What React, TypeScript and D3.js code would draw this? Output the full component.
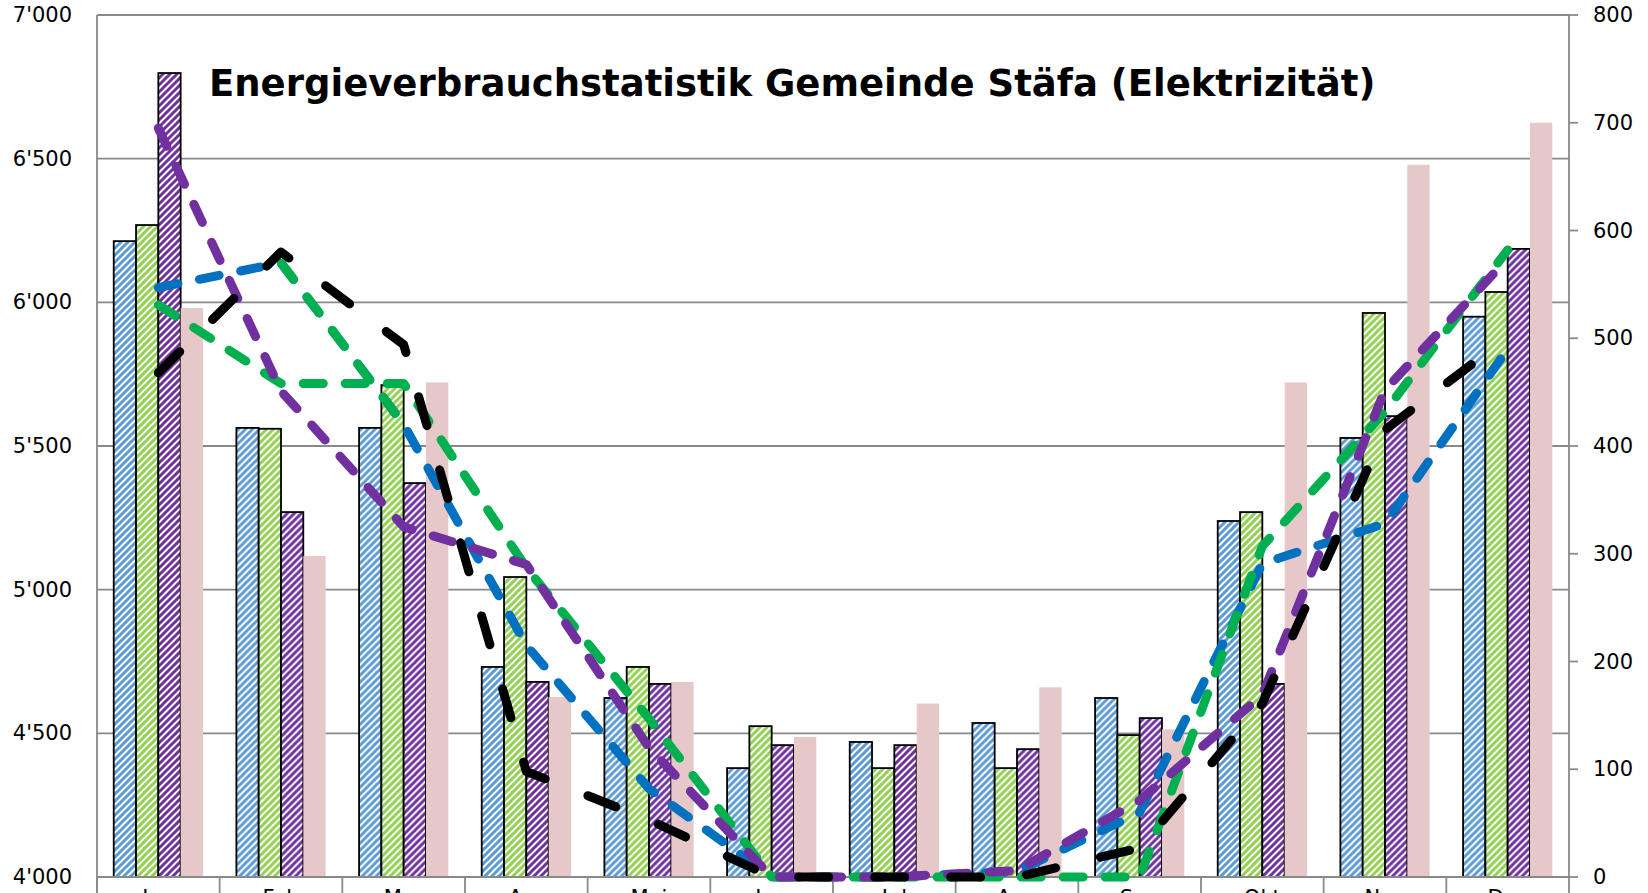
import * as d3 from "d3"

// Monate
const months = ["Jan", "Feb", "Mar", "Apr", "Mai", "Jun", "Jul", "Aug", "Sep", "Okt", "Nov", "Dez"]

// Balken (linke Achse)
const blueBars = [6213, 5563, 5563, 4731, 4623, 4379, 4470, 4536, 4623, 5239, 5528, 5950]
const greenBars = [6269, 5560, 5712, 5044, 4731, 4525, 4379, 4379, 4494, 5270, 5963, 6036]
const purpleBars = [6798, 5270, 5371, 4679, 4672, 4459, 4459, 4445, 4553, 4672, 5604, 6186]
// Balken (rechte Achse)
const pinkBars = [528, 298, 459, 167, 181, 130, 161, 176, 137, 459, 661, 700]

// Linien (rechte Achse)
const blueLine = [547, 570, 420, 215, 82, 0, 0, 5, 60, 291, 328, 490]
const greenLine = [531, 458, 458, 287, 147, 0, 0, 0, 0, 307, 432, 582]
const purpleLine = [695, 451, 325, 290, 120, 0, 0, 6, 71, 169, 452, 574]
const blackLine = [468, 580, 494, 98, 53, 0, 0, 0, 27, 161, 415, 501]
// green segment lying over the blue one between Feb and Mar
const greenSegment: (number | null)[] = [null, 570, 420, null, null, null, null, null, null, null, null, null]

const leftTicks = [4000, 4500, 5000, 5500, 6000, 6500, 7000]
const rightTicks = [0, 100, 200, 300, 400, 500, 600, 700, 800]

const title = "Energieverbrauchstatistik Gemeinde Stäfa (Elektrizität)"

const W = 1648
const H = 893
const left = 97
const right = 1569
const top = 15
const bottom = 877

const fmt = d3.formatLocale({ decimal: ".", thousands: "'", grouping: [3], currency: ["", ""] }).format(",")

export default function App() {
  const x = d3.scaleBand<string>().domain(months).range([left, right]).padding(0)
  // Excel gap width 150 %
  const xi = d3.scaleBand<string>().domain(["b", "g", "p", "r"]).range([0, x.bandwidth()]).paddingInner(0).paddingOuter(0.75)
  const yL = d3.scaleLinear().domain([4000, 7000]).range([bottom, top])
  const yR = d3.scaleLinear().domain([0, 800]).range([bottom, top])
  const xc = (i: number) => (x(months[i]) as number) + x.bandwidth() / 2

  const line = d3
    .line<number | null>()
    .defined((d) => d != null)
    .x((_, i) => xc(i))
    .y((d) => yR(d as number))

  const bars = [
    { key: "b", values: blueBars, fill: "url(#hatchBlue)" },
    { key: "g", values: greenBars, fill: "url(#hatchGreen)" },
    { key: "p", values: purpleBars, fill: "url(#hatchPurple)" },
  ]

  const dash = "20 22"
  // dash phase of the blue line at Feb, so the green segment covers it
  const offset = Math.hypot(xc(1) - xc(0), yR(blueLine[1]) - yR(blueLine[0]))

  const lines = [
    { values: blueLine, color: "#0070C0", dash, off: 0 },
    { values: greenSegment, color: "#00B050", dash, off: offset },
    { values: greenLine, color: "#00B050", dash, off: 0 },
    { values: purpleLine, color: "#7030A0", dash, off: 0 },
    { values: blackLine, color: "#000000", dash: "30 46", off: 0 },
  ]

  const hatch = (id: string, color: string) => (
    <pattern id={id} patternUnits="userSpaceOnUse" width={7} height={7}>
      <rect width={7} height={7} fill="#ffffff" />
      <path d="M-1.75,1.75 l3.5,-3.5 M0,7 l7,-7 M5.25,8.75 l3.5,-3.5" stroke={color} strokeWidth={3} />
    </pattern>
  )

  return (
    <svg
      width={W}
      height={H}
      style={{ position: "absolute", left: 0, top: 0, fontFamily: "DejaVu Sans", background: "#fff" }}
    >
      <defs>
        {hatch("hatchBlue", "#5B9BD5")}
        {hatch("hatchGreen", "#92D050")}
        {hatch("hatchPurple", "#7030A0")}
      </defs>
      <rect width={W} height={H} fill="#fff" />

      {/* Gitterlinien */}
      {leftTicks.map((t) => (
        <line key={t} x1={left} x2={right} y1={yL(t)} y2={yL(t)} stroke="#898989" strokeWidth={1.8} />
      ))}

      {/* Balken */}
      {months.map((m, i) => (
        <g key={m} transform={`translate(${x(m)},0)`}>
          {bars.map((s) => (
            <rect
              key={s.key}
              x={xi(s.key)}
              y={yL(s.values[i])}
              width={xi.bandwidth()}
              height={bottom - yL(s.values[i])}
              fill={s.fill}
              stroke="#000"
              strokeWidth={1.8}
            />
          ))}
          <rect x={xi("r")} y={yR(pinkBars[i])} width={xi.bandwidth()} height={bottom - yR(pinkBars[i])} fill="#E6C8C8" />
        </g>
      ))}

      {/* Achsen */}
      <line x1={left} x2={left} y1={top} y2={H + 5} stroke="#898989" strokeWidth={1.8} />
      <line x1={right} x2={right} y1={top} y2={H + 5} stroke="#898989" strokeWidth={1.8} />
      <line x1={left} x2={right} y1={bottom} y2={bottom} stroke="#898989" strokeWidth={2} />
      {months.map((m) => (
        <line key={m} x1={x(m)} x2={x(m)} y1={bottom} y2={H + 5} stroke="#898989" strokeWidth={1.8} />
      ))}
      {rightTicks.map((t) => (
        <line key={t} x1={right} x2={right + 9} y1={yR(t)} y2={yR(t)} stroke="#898989" strokeWidth={1.8} />
      ))}

      {/* Linien */}
      {lines.map((l, i) => (
        <path
          key={i}
          d={line(l.values) || ""}
          fill="none"
          stroke={l.color}
          strokeWidth={9}
          strokeLinecap="round"
          strokeLinejoin="round"
          strokeDasharray={l.dash}
          strokeDashoffset={l.off}
        />
      ))}

      {/* Beschriftungen */}
      {leftTicks.map((t) => (
        <text key={t} x={72} y={yL(t)} textAnchor="end" dominantBaseline="central" fontSize={21} fill="#000">
          {fmt(t)}
        </text>
      ))}
      {rightTicks.map((t) => (
        <text key={t} x={1593} y={yR(t)} dominantBaseline="central" fontSize={21} fill="#000">
          {t}
        </text>
      ))}
      {months.map((m, i) => (
        <text key={m} x={xc(i)} y={905} textAnchor="middle" fontSize={21} fill="#000">
          {m}
        </text>
      ))}

      <text x={209} y={96} fontSize={37} fontWeight="bold" fill="#000">
        {title}
      </text>
    </svg>
  )
}
